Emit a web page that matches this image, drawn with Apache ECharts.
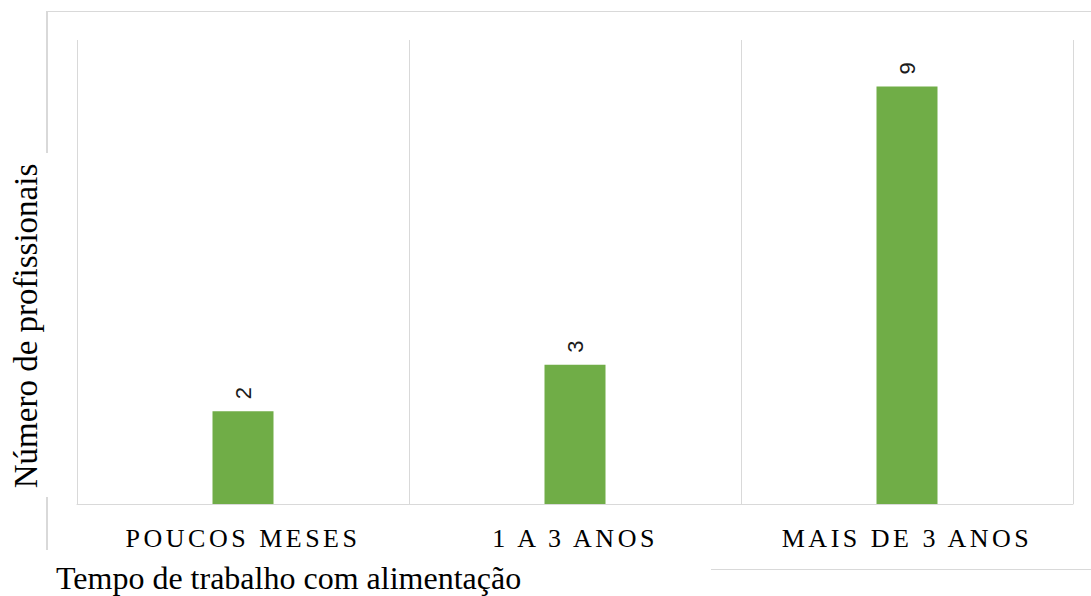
<!DOCTYPE html>
<html>
<head>
<meta charset="utf-8">
<script src="https://cdn.jsdelivr.net/npm/echarts@6/dist/echarts.min.js"></script>
<style>
  html, body { margin: 0; padding: 0; background: #fff; }
  #chart { width: 1091px; height: 596px; }
</style>
</head>
<body>
<div id="chart"></div>
<script>
// Tempo de trabalho com alimentação — number of professionals per group
const categories = ['POUCOS MESES', '1 A 3 ANOS', 'MAIS DE 3 ANOS'];
const counts = [2, 3, 9];
const yTitle = 'Número de profissionais';
const xTitle = 'Tempo de trabalho com alimentação';

const frameColor = '#d9d9d9';
const chart = echarts.init(document.getElementById('chart'), null, { renderer: 'svg' });

chart.setOption({
  animation: false,
  backgroundColor: '#fff',
  grid: { left: 77, right: 18, top: 40, bottom: 92, containLabel: false },
  xAxis: {
    type: 'category',
    data: categories,
    axisLine: { show: true, lineStyle: { color: frameColor, width: 1 } },
    axisTick: { show: false },
    splitLine: { show: true, lineStyle: { color: frameColor, width: 1 } },
    axisLabel: {
      margin: 21,
      fontFamily: 'Liberation Serif',
      fontSize: 26,
      color: '#000'
    }
  },
  yAxis: {
    type: 'value',
    min: 0,
    max: 10,
    show: false,
    splitLine: { show: false }
  },
  series: [{
    type: 'bar',
    data: counts,
    barWidth: 61,
    itemStyle: { color: '#70ad47' },
    label: {
      show: true,
      position: 'top',
      rotate: 90,
      align: 'left',
      verticalAlign: 'middle',
      distance: 12,
      fontFamily: 'Liberation Sans',
      fontSize: 22,
      color: '#1a1a1a'
    }
  }],
  graphic: [
    // chart area frame, partly hidden behind the axis titles
    { type: 'line', shape: { x1: 47, y1: 11.5, x2: 1091, y2: 11.5 }, style: { stroke: frameColor, lineWidth: 1 } },
    { type: 'line', shape: { x1: 47, y1: 11, x2: 47, y2: 153 }, style: { stroke: frameColor, lineWidth: 2 } },
    { type: 'line', shape: { x1: 47, y1: 497, x2: 47, y2: 550 }, style: { stroke: frameColor, lineWidth: 2 } },
    { type: 'line', shape: { x1: 711, y1: 569.5, x2: 1091, y2: 569.5 }, style: { stroke: frameColor, lineWidth: 1 } },
    {
      type: 'text',
      x: 26, y: 326,
      rotation: Math.PI / 2,
      style: {
        text: yTitle,
        font: '33px "Liberation Serif"',
        fill: '#000',
        align: 'center',
        verticalAlign: 'middle'
      }
    },
    {
      type: 'text',
      x: 56, y: 562,
      style: {
        text: xTitle,
        font: '32px "Liberation Serif"',
        fill: '#000',
        align: 'left',
        verticalAlign: 'top'
      }
    }
  ]
});

// category labels use wide character spacing
function spaceCategoryLabels() {
  document.querySelectorAll('#chart svg text').forEach(function (t) {
    if (categories.indexOf(t.textContent) >= 0) {
      t.style.letterSpacing = '3.5px';
    }
  });
}
chart.on('finished', spaceCategoryLabels);
spaceCategoryLabels();
</script>
</body>
</html>
